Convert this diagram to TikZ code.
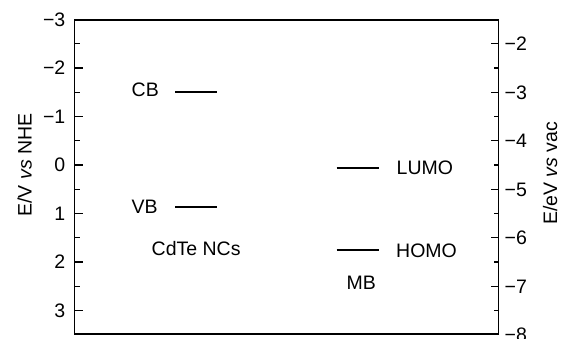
\documentclass[tikz,border=0pt]{standalone}
\usepackage{fontspec}
\setmainfont{Liberation Sans}
\begin{document}
\begin{tikzpicture}[x=1pt,y=-1pt,
  lbl/.style={font=\fontsize{19.5}{22}\selectfont, inner sep=0pt},
  frame/.style={line width=1.5pt},
  tick/.style={line width=1.3pt},
  level/.style={line width=1.6pt}]
\useasboundingbox (0,0) rectangle (561,339);
% frame
\coordinate (fTL) at (74.5,20);
\coordinate (fBR) at (498.5,334);
\draw[frame] (fTL) rectangle (fBR);
% left axis (E vs NHE): y = 165 + 48.5 v
\foreach \v in {-3,-2,-1,0,1,2,3}{
  \pgfmathsetmacro{\yy}{165+48.5*\v}
  \draw[tick] (74.5,\yy) -- (82.5,\yy);
  \node[lbl,anchor=base east] (L\v) at (65.5,\yy+6.8) {\ifnum\v<0 −\the\numexpr-\v\relax\else\v\fi};
}
\foreach \v in {-2.5,-1.5,-0.5,0.5,1.5,2.5}{
  \pgfmathsetmacro{\yy}{165+48.5*\v}
  \draw[tick] (74.5,\yy) -- (79.5,\yy);
}
% right axis (E vs vac): v = -4.5 - vac
\foreach \w in {2,3,4,5,6,7,8}{
  \pgfmathsetmacro{\yy}{165+48.5*(\w-4.5)}
  \draw[tick] (498.5,\yy) -- (490.5,\yy);
  \node[lbl,anchor=base west] (R\w) at (504.5,\yy+6.8) {−\w};
}
\foreach \w in {2.5,3.5,4.5,5.5,6.5,7.5}{
  \pgfmathsetmacro{\yy}{165+48.5*(\w-4.5)}
  \draw[tick] (498.5,\yy) -- (493.5,\yy);
}
% axis titles
\node[lbl,rotate=90,anchor=base] (ytitleL) at (31.5,165) {E/V \textit{vs} NHE};
\node[lbl,rotate=90,anchor=base] (ytitleR) at (557,173.5) {E/eV \textit{vs} vac};
% CdTe levels
\coordinate (cbA) at (175,92); \coordinate (cbB) at (217,92);
\coordinate (vbA) at (175,207); \coordinate (vbB) at (217,207);
\draw[level] (cbA) -- (cbB);
\draw[level] (vbA) -- (vbB);
\node[lbl,anchor=base west] (CB) at (131.5,96.7) {CB};
\node[lbl,anchor=base west] (VB) at (131.5,213.3) {VB};
\node[lbl,anchor=base west] (CdTe) at (151.5,255) {CdTe NCs};
% MB levels
\coordinate (luA) at (336.5,168); \coordinate (luB) at (378.5,168);
\coordinate (hoA) at (336.5,250); \coordinate (hoB) at (378.5,250);
\draw[level] (luA) -- (luB);
\draw[level] (hoA) -- (hoB);
\node[lbl,anchor=base west] (LUMO) at (396.5,174.3) {LUMO};
\node[lbl,anchor=base west] (HOMO) at (396,257.3) {HOMO};
\node[lbl,anchor=base west] (MB) at (346.5,289.3) {MB};
\end{tikzpicture}
\end{document}
